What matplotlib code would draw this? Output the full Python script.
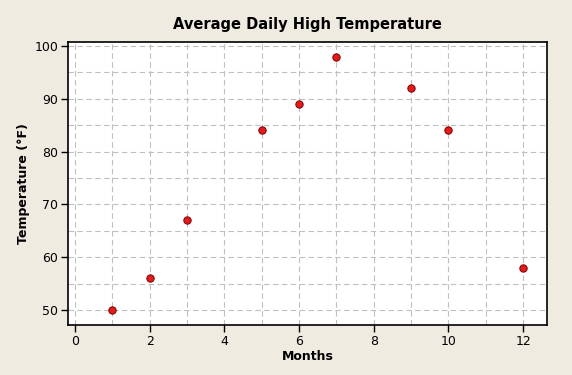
import matplotlib.pyplot as plt
from matplotlib.ticker import MultipleLocator

months = [1, 2, 3, 5, 6, 7, 9, 10, 12]
temps = [50, 56, 67, 84, 89, 98, 92, 84, 58]

fig = plt.figure(figsize=(5.72, 3.75), dpi=100, facecolor='#efebe1')
ax = fig.add_axes([68/572, 1 - 325/375, (547-68)/572, (325-42)/375])
ax.set_facecolor('white')

ax.scatter(months, temps, s=28, color='#e41a1c', edgecolors='#7a0000', linewidths=0.7, zorder=3)

ax.set_xlim(-0.19, 12.64)
ax.set_ylim(47.16, 100.76)
ax.xaxis.set_major_locator(MultipleLocator(2))
ax.xaxis.set_minor_locator(MultipleLocator(1))
ax.yaxis.set_major_locator(MultipleLocator(10))
ax.yaxis.set_minor_locator(MultipleLocator(5))
ax.grid(which='both', color='#c0c0c0', linestyle=(0, (5, 3)), linewidth=0.8, zorder=0)
ax.tick_params(which='minor', length=0)
ax.tick_params(which='major', length=5, width=1, labelsize=9, color='black', pad=2)
for s in ax.spines.values():
    s.set_linewidth(1.2)

ax.set_title('Average Daily High Temperature', fontsize=10.5, fontweight='bold', pad=9)
ax.set_xlabel('Months', fontsize=9, fontweight='bold', labelpad=2)
ax.set_ylabel('Temperature (°F)', fontsize=9, fontweight='bold', labelpad=3)

fig.savefig('out.png', dpi=100, facecolor=fig.get_facecolor())
